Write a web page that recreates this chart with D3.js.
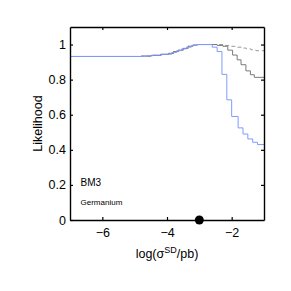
<!DOCTYPE html>
<html>
<head>
<meta charset="utf-8">
<script src="https://cdn.jsdelivr.net/npm/d3@7"></script>
<style>
  body { margin: 0; background: #fff; }
  text { font-family: "Liberation Sans", Arial, sans-serif; }
</style>
</head>
<body>
<div id="chart"></div>
<script>
// step edges (x = log sigma) and likelihood values
var blueX = [-7, -4.75, -4.45, -4.15, -3.85, -3.7, -3.55, -3.4, -3.25, -3.1, -2.6, -2.45, -2.3, -2.15, -2.0, -1.8, -1.65, -1.5, -1.35, -1.2];
var blueY = [0.932, 0.935, 0.94, 0.945, 0.955, 0.965, 0.975, 0.985, 0.995, 1.0, 0.985, 0.96, 0.83, 0.685, 0.59, 0.525, 0.49, 0.462, 0.443, 0.43];

var grayX = [-7, -4.8, -4.5, -4.2, -3.95, -3.8, -3.65, -3.5, -3.35, -3.2, -3.05, -2.45, -2.27, -2.12, -1.97, -1.83, -1.71, -1.56, -1.42, -1.3];
var grayY = [0.932, 0.934, 0.938, 0.944, 0.95, 0.96, 0.968, 0.978, 0.99, 0.997, 1.0, 0.995, 0.99, 0.968, 0.94, 0.913, 0.885, 0.85, 0.828, 0.813];

var dashX = [-7, -4.8, -4.5, -4.2, -3.95, -3.8, -3.65, -3.5, -3.35, -3.2, -3.05, -2.2, -2.0, -1.85, -1.7, -1.55, -1.4, -1.25];
var dashY = [0.932, 0.934, 0.938, 0.944, 0.95, 0.96, 0.968, 0.978, 0.99, 0.997, 1.0, 0.995, 0.99, 0.985, 0.98, 0.975, 0.97, 0.965];

var xTicks = [-6, -4, -2];
var yTicks = [0, 0.2, 0.4, 0.6, 0.8, 1];
var markerX = [-3];

var width = 291, height = 291;
var margin = {left: 70, right: 27, top: 27, bottom: 71};

var svg = d3.select("#chart").append("svg")
  .attr("width", width)
  .attr("height", height);

var x = d3.scaleLinear().domain([-7, -1]).range([margin.left, width - margin.right]);
var y = d3.scaleLinear().domain([0, 1.1]).range([height - margin.bottom, margin.top]);

function stepData(xs, ys) {
  var pts = xs.map(function(d, i) { return [d, ys[i]]; });
  pts.push([-1, ys[ys.length - 1]]);
  return pts;
}

var line = d3.line()
  .x(function(d) { return x(d[0]); })
  .y(function(d) { return y(d[1]); })
  .curve(d3.curveStepAfter);

var series = [
  {pts: stepData(dashX, dashY), color: "#999999", dash: "4,3"},
  {pts: stepData(grayX, grayY), color: "#7a7a7a", dash: null},
  {pts: stepData(blueX, blueY), color: "#7f9bff", dash: null}
];

svg.selectAll(".series")
  .data(series)
  .enter()
  .append("path")
  .attr("class", "series")
  .attr("d", function(d) { return line(d.pts); })
  .attr("fill", "none")
  .attr("stroke", function(d) { return d.color; })
  .attr("stroke-width", 1)
  .attr("stroke-dasharray", function(d) { return d.dash; });

// axes, ticks inward, box
var tickLen = 3;
var bottomAxis = d3.axisBottom(x).tickValues(xTicks).tickSizeInner(-tickLen).tickSizeOuter(0).tickPadding(8)
  .tickFormat(function(d) { return d3.format("")(d).replace("-", "\u2212"); });
var topAxis = d3.axisTop(x).tickValues(xTicks).tickSizeInner(-tickLen).tickSizeOuter(0).tickFormat("");
var leftAxis = d3.axisLeft(y).tickValues(yTicks).tickSizeInner(-tickLen).tickSizeOuter(0).tickPadding(4)
  .tickFormat(function(d) { return d3.format("")(d); });
var rightAxis = d3.axisRight(y).tickValues(yTicks.slice(1)).tickSizeInner(-tickLen).tickSizeOuter(0).tickFormat("");

var axes = [
  svg.append("g").attr("transform", "translate(0," + y(0) + ")").call(bottomAxis),
  svg.append("g").attr("transform", "translate(0," + y(1.1) + ")").call(topAxis),
  svg.append("g").attr("transform", "translate(" + x(-7) + ",0)").call(leftAxis),
  svg.append("g").attr("transform", "translate(" + x(-1) + ",0)").call(rightAxis)
];
axes.forEach(function(g) {
  g.select(".domain").attr("stroke", "#000").attr("stroke-width", 1.4);
  g.selectAll(".tick line").attr("stroke", "#000").attr("stroke-width", 1.2);
  g.selectAll(".tick text").attr("fill", "#000").style("font-size", "12.5px")
    .style("font-family", "'Liberation Sans', Arial, sans-serif");
});

// marker on x axis
svg.selectAll(".marker")
  .data(markerX)
  .enter()
  .append("circle")
  .attr("class", "marker")
  .attr("cx", function(d) { return x(d); })
  .attr("cy", y(0))
  .attr("r", 4.5)
  .attr("fill", "#000");

// labels
svg.append("text")
  .attr("transform", "translate(42," + ((y(0) + y(1.1)) / 2) + ") rotate(-90)")
  .attr("text-anchor", "middle")
  .style("font-size", "12.5px")
  .text("Likelihood");

var xt = svg.append("text")
  .attr("x", (x(-7) + x(-1)) / 2)
  .attr("y", 258)
  .attr("text-anchor", "middle")
  .style("font-size", "12.5px");
xt.append("tspan").text("log(\u03C3");
xt.append("tspan").attr("dy", -5).style("font-size", "9px").text("SD");
xt.append("tspan").attr("dy", 5).text("/pb)");

svg.append("text")
  .attr("x", 80.5)
  .attr("y", 186)
  .style("font-size", "10px")
  .text("BM3");

svg.append("text")
  .attr("x", 80.5)
  .attr("y", 204.5)
  .style("font-size", "8px")
  .text("Germanium");
</script>
</body>
</html>
